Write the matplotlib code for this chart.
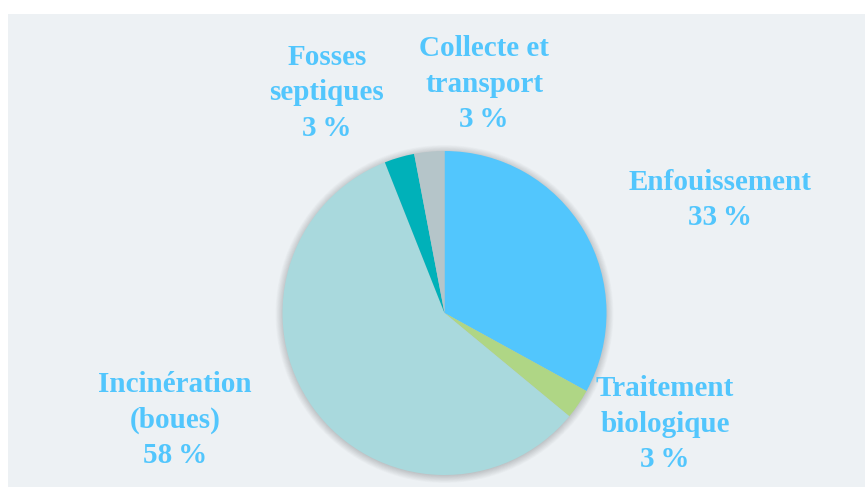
import matplotlib.pyplot as plt
from matplotlib.patches import Rectangle, Circle

# data
labels = ["Enfouissement", "Traitement\nbiologique", "Incinération\n(boues)",
          "Fosses\nseptiques", "Collecte et\ntransport"]
values = [33, 3, 58, 3, 3]
colors = ["#52c6fd", "#afd685", "#a9d9dd", "#00b1b9", "#b5c5c9"]
label_pos = [(720, 287), (665, 63), (175, 67), (327, 394), (484, 403)]

W, H = 865, 487
fig = plt.figure(figsize=(W / 100, H / 100), dpi=100, facecolor="white")
ax = fig.add_axes([0, 0, 1, 1])
ax.set_xlim(0, W)
ax.set_ylim(0, H)
ax.set_aspect("equal")
ax.axis("off")

# panel background
ax.add_patch(Rectangle((8, 0), W - 8, H - 14, facecolor="#edf1f4", edgecolor="none", zorder=0))

cx, cy, r = 444.5, 174, 162

# soft shadow around the pie
for i in range(12):
    ax.add_patch(Circle((cx, cy - 1), r + 7 - i * 0.7, facecolor="black",
                        alpha=0.014, edgecolor="none", zorder=1))

ax.pie(values, colors=colors, startangle=90, counterclock=False,
       center=(cx, cy), radius=r, frame=True,
       wedgeprops=dict(linewidth=0, zorder=2))
ax.set_xlim(0, W)
ax.set_ylim(0, H)
ax.axis("off")

for lab, v, (x, y) in zip(labels, values, label_pos):
    ax.text(x, y, f"{lab}\n{v}\u2009%", ha="center", va="center", color="#52c6fd",
            fontsize=21, fontweight="bold", family=["Liberation Serif", "DejaVu Serif"],
            linespacing=1.42, zorder=3)

fig.savefig("out.png", dpi=100, facecolor="white")
